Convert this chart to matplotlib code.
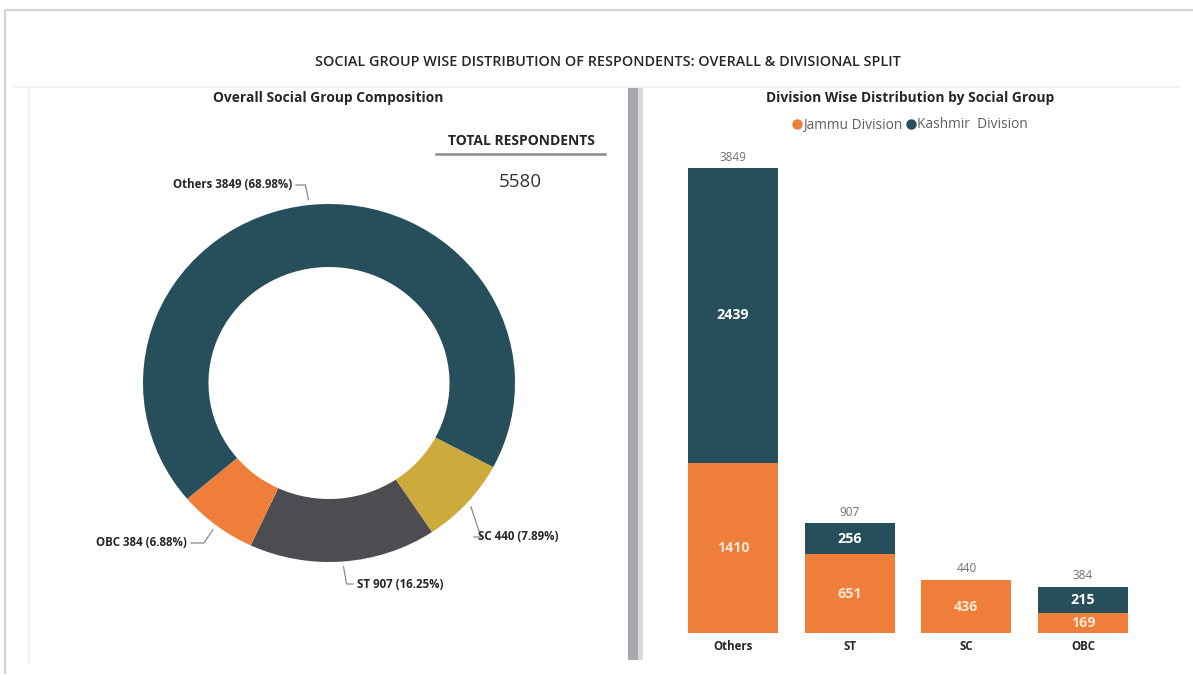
import matplotlib
matplotlib.use("Agg")
import matplotlib.pyplot as plt
import numpy as np
from matplotlib.lines import Line2D
from matplotlib.patches import Rectangle

# ---- data ----
groups = ["Others", "ST", "SC", "OBC"]
group_totals = [3849, 907, 440, 384]
group_pct = ["68.98%", "16.25%", "7.89%", "6.88%"]
jammu = [1410, 651, 436, 169]
kashmir = [2439, 256, 4, 215]
total_respondents = 5580
division_names = ["Jammu Division", "Kashmir  Division"]

# ---- styling ----
TEAL = "#264F5B"
ORANGE = "#EF7E3B"
MUSTARD = "#CCAA3B"
SLATE = "#4D4C51"
group_colors = {"Others": TEAL, "ST": SLATE, "SC": MUSTARD, "OBC": ORANGE}
TXT = "#262626"

plt.rcParams["font.family"] = ["Open Sans", "DejaVu Sans"]

W, H = 1193, 675
fig = plt.figure(figsize=(W / 100, H / 100), dpi=100)
fig.patch.set_facecolor("white")


def px_rect(x0, y0, x1, y1):
    """Figure-fraction rectangle from pixel box (top-left origin)."""
    return [x0 / W, (H - y1) / H, (x1 - x0) / W, (y1 - y0) / H]


# overlay in pixel coordinates for frames, titles and annotations
ov = fig.add_axes([0, 0, 1, 1], zorder=0)
ov.set_xlim(0, W)
ov.set_ylim(H, 0)
ov.axis("off")

# outer frame
ov.plot([5, W], [10, 10], color="#D3D3D3", lw=1.6, solid_capstyle="butt")
ov.plot([5, 5], [10, 674], color="#D3D3D3", lw=1.6, solid_capstyle="butt")
# panel outlines (faint)
ov.plot([15, 1180], [87, 87], color="#F0F0F0", lw=1.2)
ov.plot([29, 29], [88, 662], color="#F2F2F2", lw=1.6)
# panel divider with soft shadow
ov.add_patch(Rectangle((638, 88), 5, 572, color="#DADADD", lw=0))
ov.add_patch(Rectangle((628, 88), 10, 572, color="#A9A8AE", lw=0))

# titles
ov.text(608, 62, "SOCIAL GROUP WISE DISTRIBUTION OF RESPONDENTS: OVERALL & DIVISIONAL SPLIT",
        ha="center", va="center", fontsize=10.4, color=TXT, fontweight="semibold")
ov.text(328, 98, "Overall Social Group Composition", ha="center", va="center",
        fontsize=9.9, color=TXT, fontweight="bold")
ov.text(910, 98, "Division Wise Distribution by Social Group", ha="center", va="center",
        fontsize=9.9, color=TXT, fontweight="bold")

# total respondents card
ov.text(521, 141, "TOTAL RESPONDENTS", ha="center", va="center",
        fontsize=10, color=TXT, fontweight="bold")
ov.plot([436, 605], [154, 154], color="#8C8C8C", lw=1.8)
ov.text(520, 182, f"{total_respondents}", ha="center", va="center",
        fontsize=13.5, color="#333333")

# ---- donut ----
cx, cy, rx, ry = 329, 383, 186, 179
axd = fig.add_axes(px_rect(cx - 200, cy - 200, cx + 200, cy + 200), zorder=1)
order = ["SC", "ST", "OBC", "Others"]
vals = [group_totals[groups.index(g)] for g in order]
wedges, _ = axd.pie(vals, colors=[group_colors[g] for g in order], startangle=-28,
                    counterclock=False, radius=1.0,
                    wedgeprops=dict(width=0.352, edgecolor="none", linewidth=0))
axd.set_aspect("auto")
axd.set_xlim(-200 / rx, 200 / rx)
axd.set_ylim(-200 / ry, 200 / ry)
axd.axis("off")

# label leaders: (text x, text y, elbow dx, ha)
label_layout = {
    "Others": (292, 185, -3, "right"),
    "OBC": (187, 543, -9, "right"),
    "SC": (478, 537, 10, "left"),
    "ST": (357, 584, 3, "left"),
}
to_px = axd.transData + ov.transData.inverted()
for g, w in zip(order, wedges):
    mid = np.deg2rad((w.theta1 + w.theta2) / 2)
    ax_pt, ay_pt = to_px.transform((1.03 * np.cos(mid), 1.03 * np.sin(mid)))
    tx, ty, edx, ha = label_layout[g]
    ex = ax_pt + edx
    gap = 4 if ha == "right" else -4
    ov.plot([ax_pt, ex, tx + gap], [ay_pt, ty, ty], color="#8A8A8A", lw=0.9)
    i = groups.index(g)
    ov.text(tx, ty, f"{g} {group_totals[i]} ({group_pct[i]})", ha=ha, va="center",
            fontsize=8.3, color=TXT, fontweight="bold")

# ---- stacked bars ----
axb = fig.add_axes(px_rect(663, 150, 1153, 633), zorder=1)
axb.patch.set_alpha(0)
x = np.arange(len(groups))
bw = 0.77
axb.bar(x, jammu, width=bw, color=ORANGE, lw=0)
axb.bar(x, kashmir, width=bw, bottom=jammu, color=TEAL, lw=0)
axb.set_xlim(-0.6, 3.6)
axb.set_ylim(0, 4000)
for s in axb.spines.values():
    s.set_visible(False)
axb.set_yticks([])
axb.set_xticks(x)
axb.set_xticklabels(groups, fontsize=8.3, fontweight="bold", color=TXT)
axb.tick_params(axis="x", length=0, pad=5)

for i in range(len(groups)):
    if jammu[i] > 100:
        axb.text(x[i], jammu[i] / 2, f"{jammu[i]}", ha="center", va="center",
                 fontsize=10.3, fontweight="bold", color="#FDE6D2")
    if kashmir[i] > 100:
        axb.text(x[i], jammu[i] + kashmir[i] / 2, f"{kashmir[i]}", ha="center",
                 va="center", fontsize=10.3, fontweight="bold", color="white")
    tot = jammu[i] + kashmir[i]
    axb.annotate(f"{tot}", (x[i], tot), xytext=(0, 8), textcoords="offset points",
                 ha="center", va="center", fontsize=8.5, color="#707070")

# legend
handles = [Line2D([], [], marker="o", ls="", color=c, markersize=6.5)
           for c in (ORANGE, TEAL)]
fig.legend(handles, division_names, loc="center", bbox_to_anchor=(910 / W, 1 - 125 / H),
           ncol=2, frameon=False, handlelength=0.7, handletextpad=0.05,
           columnspacing=0.3, fontsize=9.9, labelcolor="#606060")

fig.savefig("out.png", dpi=100, facecolor="white")
